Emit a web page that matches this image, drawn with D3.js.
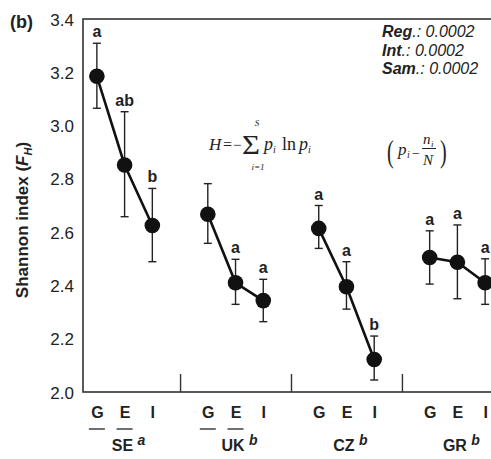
<!DOCTYPE html>
<html>
<head>
<meta charset="utf-8">
<script src="https://cdn.jsdelivr.net/npm/d3@7"></script>
<style>
  html, body { margin: 0; padding: 0; background: #fff; }
  svg { display: block; }
  text { font-family: "Liberation Sans", Arial, sans-serif; fill: #222; }
  .serif { font-family: "Liberation Serif", "Times New Roman", serif; }
</style>
</head>
<body>
<svg id="chart" width="491" height="459"></svg>
<script>
// Shannon diversity (F_H) by site and management treatment
const sites = ["SE", "UK", "CZ", "GR"];
const siteLetters = ["a", "b", "b", "b"];
const treatments = ["G", "E", "I"];
const meanH = [
  [3.185, 2.852, 2.625],
  [2.667, 2.410, 2.343],
  [2.614, 2.395, 2.122],
  [2.505, 2.487, 2.410]
];
const upperH = [
  [3.309, 3.052, 2.764],
  [2.782, 2.498, 2.423],
  [2.700, 2.489, 2.210],
  [2.605, 2.627, 2.500]
];
const lowerH = [
  [3.065, 2.658, 2.489],
  [2.558, 2.329, 2.264],
  [2.539, 2.311, 2.045],
  [2.405, 2.350, 2.329]
];
const sigLetters = [
  ["a", "ab", "b"],
  ["", "a", "a"],
  ["a", "a", "b"],
  ["a", "a", "a"]
];
const underlined = [
  [true, true, false],
  [true, true, false],
  [false, false, false],
  [false, false, false]
];
const yTicks = [2.0, 2.2, 2.4, 2.6, 2.8, 3.0, 3.2, 3.4];
const pValues = [["Reg", "0.0002"], ["Int", "0.0002"], ["Sam", "0.0002"]];

const svg = d3.select("#chart");
const plotLeft = 83, plotTop = 19, plotBottom = 392, plotRight = 499;

// slot index: 3 treatments per site, one empty slot between sites
const pos = (s, t) => s * 4 + t;
const x = d3.scaleLinear().domain([-0.5, 14.5]).range([plotLeft, plotRight]);
const y = d3.scaleLinear().domain([2.0, 3.4]).range([plotBottom, plotTop]);

// frame
svg.append("rect")
  .attr("x", plotLeft).attr("y", plotTop)
  .attr("width", plotRight - plotLeft).attr("height", plotBottom - plotTop)
  .attr("fill", "none").attr("stroke", "#333").attr("stroke-width", 1.6);

// y axis
const yAxis = svg.append("g")
  .attr("transform", `translate(${plotLeft},0)`)
  .call(d3.axisLeft(y).tickValues(yTicks).tickSize(0).tickPadding(9).tickFormat(d3.format(".1f")));
yAxis.select(".domain").remove();
yAxis.selectAll("text")
  .style("font-size", "17px").attr("fill", "#333").attr("dy", "0.36em");

// site separators (inward ticks)
const sepAxis = svg.append("g")
  .attr("transform", `translate(0,${plotBottom})`)
  .call(d3.axisBottom(x).tickValues([3, 7, 11]).tickSize(-18).tickFormat(""));
sepAxis.select(".domain").remove();
sepAxis.selectAll("line").attr("stroke", "#333").attr("stroke-width", 1.4);

// treatment labels
const catPos = [], catLab = [];
sites.forEach((s, si) => treatments.forEach((t, ti) => { catPos.push(pos(si, ti)); catLab.push(t); }));
const xAxis = svg.append("g")
  .attr("transform", `translate(0,${plotBottom})`)
  .call(d3.axisBottom(x).tickValues(catPos).tickSize(0).tickPadding(15)
    .tickFormat((d, i) => catLab[i]));
xAxis.select(".domain").remove();
xAxis.selectAll("text")
  .style("font-size", "16px").style("font-weight", "bold").attr("fill", "#333");

// underlines below treatment labels
sites.forEach((s, si) => treatments.forEach((t, ti) => {
  if (!underlined[si][ti]) return;
  const cx = x(pos(si, ti));
  svg.append("line")
    .attr("x1", cx - 8).attr("x2", cx + 8)
    .attr("y1", 429).attr("y2", 429)
    .attr("stroke", "#333").attr("stroke-width", 1.4);
}));

// site labels with superscript significance letters
sites.forEach((s, si) => {
  const t = svg.append("text")
    .attr("x", x(pos(si, 1)) + 4).attr("y", 451)
    .attr("text-anchor", "middle")
    .style("font-size", "16px").style("font-weight", "bold").attr("fill", "#333");
  t.append("tspan").text(s + " ");
  t.append("tspan").attr("dy", -6).style("font-style", "italic").style("font-size", "14px")
    .text(siteLetters[si]);
});

// connecting lines
const line = d3.line().x(d => x(d.p)).y(d => y(d.v));
sites.forEach((s, si) => {
  const pts = meanH[si].map((v, ti) => ({ p: pos(si, ti), v }));
  svg.append("path").datum(pts)
    .attr("d", line).attr("fill", "none")
    .attr("stroke", "#111").attr("stroke-width", 2.6);
});

// error bars, markers, letters
sites.forEach((s, si) => treatments.forEach((t, ti) => {
  const cx = x(pos(si, ti));
  const yu = y(upperH[si][ti]), yl = y(lowerH[si][ti]);
  const g = svg.append("g");
  g.append("line").attr("x1", cx).attr("x2", cx).attr("y1", yu).attr("y2", yl)
    .attr("stroke", "#222").attr("stroke-width", 1.4);
  [yu, yl].forEach(yy => g.append("line")
    .attr("x1", cx - 4).attr("x2", cx + 4).attr("y1", yy).attr("y2", yy)
    .attr("stroke", "#222").attr("stroke-width", 1.4));
  g.append("circle").attr("cx", cx).attr("cy", y(meanH[si][ti])).attr("r", 7.8)
    .attr("fill", "#111");
  if (sigLetters[si][ti]) {
    g.append("text").attr("x", cx).attr("y", yu - 6)
      .attr("text-anchor", "middle")
      .style("font-size", "16px").style("font-weight", "bold").attr("fill", "#333")
      .text(sigLetters[si][ti]);
  }
}));

// y axis title
svg.append("text")
  .attr("transform", "translate(28,220) rotate(-90)")
  .attr("text-anchor", "middle")
  .style("font-size", "17px").style("font-weight", "bold").attr("fill", "#333")
  .call(t => {
    t.append("tspan").text("Shannon index (");
    t.append("tspan").style("font-style", "italic").text("F");
    t.append("tspan").style("font-style", "italic").style("font-size", "11px").attr("dy", 4).text("H");
    t.append("tspan").attr("dy", -4).text(")");
  });

// panel tag
svg.append("text").attr("x", 10).attr("y", 28)
  .style("font-size", "18px").style("font-weight", "bold").text("(b)");

// p-values
pValues.forEach((d, i) => {
  const t = svg.append("text").attr("x", 382).attr("y", 37 + i * 18.5)
    .style("font-size", "16px").style("font-style", "italic").attr("fill", "#222");
  t.append("tspan").style("font-weight", "bold").text(d[0]);
  t.append("tspan").text((i === 0 ? ".:  " : ".: ") + d[1]);
});

// Shannon formula
const f = svg.append("g");
const ft = (xx, yy, txt, size, italic, anchor) => f.append("text")
  .attr("class", "serif").attr("x", xx).attr("y", yy)
  .attr("text-anchor", anchor || "start")
  .style("font-size", size + "px").style("font-style", italic ? "italic" : "normal")
  .text(txt);
ft(209, 150, "H", 17, true);
ft(223, 150, "=", 16, false);
ft(233, 150, "\u2212", 15, false);
ft(251, 154, "\u03A3", 28, false, "middle")
  .attr("transform", "translate(251,154) scale(1.1,1) translate(-251,-154)");
ft(257, 126, "S", 9, true, "middle");
ft(258, 170, "i=1", 9, true, "middle");
ft(264, 150, "p", 18, true);
ft(273, 153, "i", 10, true);
ft(282, 150, "ln", 18, false);
ft(299, 150, "p", 18, true);
ft(308, 153, "i", 10, true);

// proportion definition
f.append("text").attr("class", "serif").attr("x", 387).attr("y", 162)
  .attr("transform", "translate(387,162) scale(1,1.6) translate(-387,-162)")
  .style("font-size", "20px").attr("fill", "#333").text("(");
ft(398, 155, "p", 17, true);
ft(407, 158, "i", 10, true);
ft(412, 158, "\u2212", 14, false);
ft(423, 144, "n", 15, true);
ft(431, 147, "i", 9, true);
f.append("line").attr("x1", 422).attr("x2", 436).attr("y1", 148.5).attr("y2", 148.5)
  .attr("stroke", "#222").attr("stroke-width", 1);
ft(423, 165, "N", 15, true);
f.append("text").attr("class", "serif").attr("x", 440).attr("y", 162)
  .attr("transform", "translate(440,162) scale(1,1.6) translate(-440,-162)")
  .style("font-size", "20px").attr("fill", "#333").text(")");
</script>
</body>
</html>
